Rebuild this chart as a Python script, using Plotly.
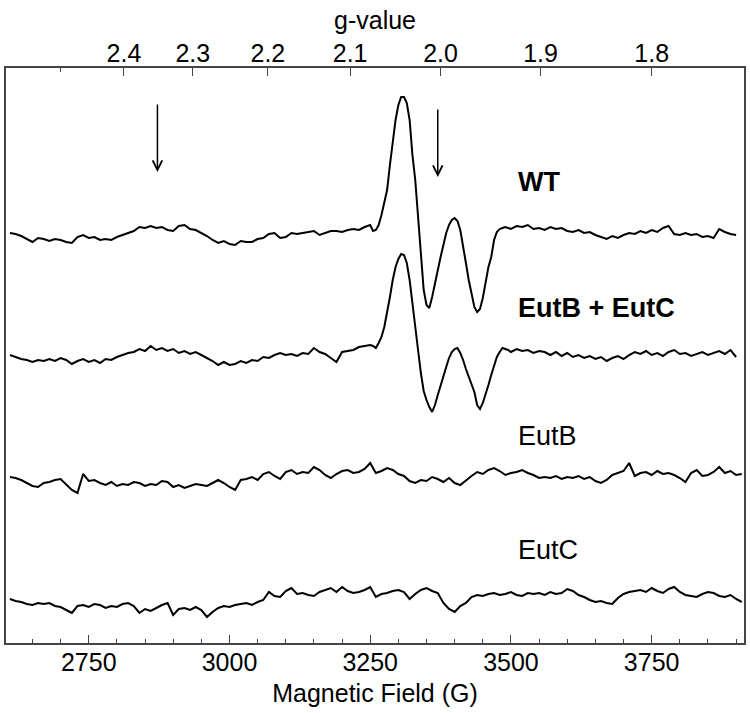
import plotly.graph_objects as go

# field sweep (G): coarse sampling outside the g~2 signal, finer inside it
COARSE_STEP = 10
FINE_STEP = 5
LEFT_START, FINE_START, RIGHT_START, RIGHT_END = 2610, 3250, 3500, 3910

# spectra (arbitrary units, baseline ~0)
# WT and EutB+EutC: left part (2610-3240), fine part (3250-3490), right part (3500-3910)
wt = [2, 1, -1, -4, -7, -3, -4, -6, -4, -5,
      -7, -8, -2, 0, -3, -2, -5, -4, -5, -2,
      0, 2, 4, 8, 7, 9, 7, 8, 5, 4,
      9, 10, 6, 5, 2, -1, -5, -8, -6, -9,
      -10, -6, -7, -7, -4, -3, 1, 2, -3, -2,
      2, 1, 2, 3, 4, 0, 2, 4, 4, 3,
      5, 6, 5, 8,
      # fine
      10, 4, 5, 10, 20, 33, 45, 70, 95, 115,
      130, 138, 138, 132, 115, 80, 55, 15, -25, -55,
      -70, -73, -62, -48, -34, -22, -10, 2, 10, 15,
      17, 14, 5, -10, -28, -45, -60, -72, -77, -74,
      -63, -48, -32, -22, -5, 3, 6, 7, 8,
      # right
      7, 6, 9, 8, 10, 6, 7, 5, 8, 6, 7,
      4, 3, 5, 2, 3, 0, -2, -4, -1, -3,
      0, 2, 1, 4, 2, 5, 3, 7, 9, 1,
      0, 2, 0, 1, -2, -1, -3, 6, 3, 1,
      0]
eutb_eutc = [0, -2, -4, -5, -7, -5, -6, -4, -6, -3,
             -5, -9, -6, -4, -7, -5, -8, -4, -5, -2,
             0, 2, 3, 6, 4, 9, 5, 7, 4, 6,
             2, 4, 1, 3, 0, -3, -6, -10, -7, -10,
             -9, -6, -8, -5, -6, -2, -3, 0, 2, 0,
             1, -1, 2, 1, 7, 3, 1, -3, -7, 3,
             4, 5, 8, 9,
             # fine
             10, 9, 7, 12, 18, 28, 42, 58, 75, 88,
             96, 101, 100, 92, 75, 50, 28, 5, -18, -36,
             -45, -52, -57, -50, -40, -30, -20, -12, -3, 3,
             6, 7, 2, -5, -14, -22, -30, -37, -50, -54,
             -48, -40, -30, -20, -10, -2, 3, 7, 6,
             # right
             5, 3, 6, 4, 5, 2, 4, 3, 0, 3, -1,
             2, -2, 0, -3, -1, -4, -2, -6, -3, -1,
             -4, 0, 3, 1, 4, 0, 2, -1, 3, 5,
             1, 2, -1, 1, 3, 0, 2, 4, 1, 5,
             -2]
# EutB and EutC: 2610-3910 every 10 G
eutb = [1, 0, -2, -5, -8, -9, -5, -4, -2, -1,
        -7, -12, -15, 4, -3, -2, -5, -7, -4, -8,
        -6, -7, -4, -5, -8, -6, -7, -3, -4, -9,
        -7, -10, -8, -6, -7, -8, -5, -2, -5, -9,
        -12, -2, -1, 1, -2, 4, 6, 2, -1, 6,
        8, 4, 6, 5, 11, 8, 3, 0, 4, 7,
        8, 5, 6, 9, 15, 5, 7, 10, 8, 4,
        2, -3, -5, -2, -3, 1, -1, -4, 0, -5,
        -7, -2, 2, 6, 4, 8, 10, 7, 3, 5,
        6, 8, 5, 3, 0, 1, 0, 2, -1, 1,
        0, 2, -1, 1, -3, -5, -2, 3, 5, 7,
        15, 2, 5, 6, 3, 7, 4, 5, 3, 0,
        -4, 5, 8, 2, 3, 6, 11, 5, 7, 3,
        4]
eutc = [1, -1, -2, -4, -5, -3, -4, -3, -6, -7,
        -10, -13, -6, -5, -7, -4, -5, -8, -6, -7,
        -4, -3, -6, -13, -9, -11, -8, -5, -3, -15,
        -9, -8, -10, -7, -10, -17, -12, -8, -6, -7,
        -5, -4, -3, -5, -2, 0, 8, 4, 3, 9,
        12, 6, 7, 5, 4, 8, 10, 12, 8, 13,
        9, 7, 8, 10, 13, 3, 6, 7, 9, 10,
        8, 1, 6, 10, 12, 9, 7, -3, -9, -12,
        -6, -3, 3, 5, 4, 6, 7, 5, 6, 8,
        5, 4, 7, 6, 7, 5, 8, 6, 7, 11,
        9, 5, 3, 0, -2, -1, -3, -4, 2, 6,
        8, 9, 10, 8, 12, 9, 7, 11, 13, 8,
        5, 4, 3, 6, 8, 7, 4, 3, 5, 1,
        -2]

labels = ["WT", "EutB + EutC", "EutB", "EutC"]
field_ticks = [2750, 3000, 3250, 3500, 3750]
g_ticks = [2.4, 2.3, 2.2, 2.1, 2.0, 1.9, 1.8]
g_minor = [2.5]
arrow_fields = [2872, 3370]

HNU = 6750  # g * B (G) for the microwave frequency used
OFFSETS = [408, 288, 165, 43]
LABEL_X = 3509
LABEL_Y = [461, 335, 207, 93]
ARROW_TIP = [471, 466]
ARROW_TAIL = [540, 535]
XR = [2603, 3914]
FONT = "Liberation Sans, Arial, sans-serif"

field_all = list(range(LEFT_START, RIGHT_END + 1, COARSE_STEP))
field_sig = (list(range(LEFT_START, FINE_START, COARSE_STEP))
             + list(range(FINE_START, RIGHT_START, FINE_STEP))
             + list(range(RIGHT_START, RIGHT_END + 1, COARSE_STEP)))

fig = go.Figure()
for spec, fx, off in zip([wt, eutb_eutc, eutb, eutc],
                         [field_sig, field_sig, field_all, field_all], OFFSETS):
    fig.add_trace(go.Scatter(
        x=fx, y=[v + off for v in spec], mode="lines",
        line=dict(color="black", width=2), hoverinfo="skip",
    ))
# dummy trace so the g-value axis is drawn
fig.add_trace(go.Scatter(x=XR, y=[None, None], xaxis="x2", mode="lines",
                         showlegend=False, hoverinfo="skip"))

for name, ly in zip(labels, LABEL_Y):
    bold = name in ("WT", "EutB + EutC")
    fig.add_annotation(
        x=LABEL_X, y=ly, text=f"<b>{name}</b>" if bold else name,
        showarrow=False, xanchor="left", yanchor="middle",
        font=dict(family=FONT, size=27, color="black"),
    )
for fx, tip, tail in zip(arrow_fields, ARROW_TIP, ARROW_TAIL):
    fig.add_annotation(
        x=fx, y=tip, ax=fx, ay=tail, axref="x", ayref="y",
        text="", showarrow=True, arrowhead=5, arrowsize=1.25,
        arrowwidth=1.5, arrowcolor="black", standoff=0,
    )

axis_style = dict(
    showline=True, linecolor="#444", linewidth=1.5, mirror=False,
    ticks="inside", ticklen=8, tickwidth=1.3, tickcolor="#444",
    showgrid=False, zeroline=False, automargin=False,
    tickfont=dict(family=FONT, size=25, color="black"),
)
fig.update_layout(
    width=750, height=713,
    margin=dict(l=6, r=6, t=68, b=70),
    plot_bgcolor="white", paper_bgcolor="white",
    showlegend=False,
    font=dict(family=FONT, color="black"),
    xaxis=dict(
        range=XR, tickmode="array", tickvals=field_ticks,
        minor=dict(ticks="inside", ticklen=4, dtick=50, tick0=2600,
                   tickcolor="#444", tickwidth=1.2),
        ticklabelstandoff=-4,
        title=dict(text="Magnetic Field (G)", font=dict(size=25), standoff=10),
        **axis_style,
    ),
    xaxis2=dict(
        range=XR, overlaying="x", side="top", anchor="y",
        tickmode="array", tickvals=[HNU / g for g in g_ticks],
        ticktext=[f"{g:.1f}" for g in g_ticks],
        minor=dict(ticks="inside", ticklen=4, tickmode="array",
                   tickvals=[HNU / g for g in g_minor],
                   tickcolor="#444", tickwidth=1.2),
        ticklabelstandoff=-6,
        title=dict(text="g-value", font=dict(size=25), standoff=3),
        **axis_style,
    ),
    yaxis=dict(range=[0, 575], showticklabels=False, ticks="",
               showgrid=False, zeroline=False, showline=True,
               linecolor="#444", linewidth=1.5, mirror=True,
               automargin=False),
)

# the page's default body margin would push the 750x713 figure off the window
fig.write_html("out.html", config={"displayModeBar": False},
               post_script="document.body.style.margin = '0';")
